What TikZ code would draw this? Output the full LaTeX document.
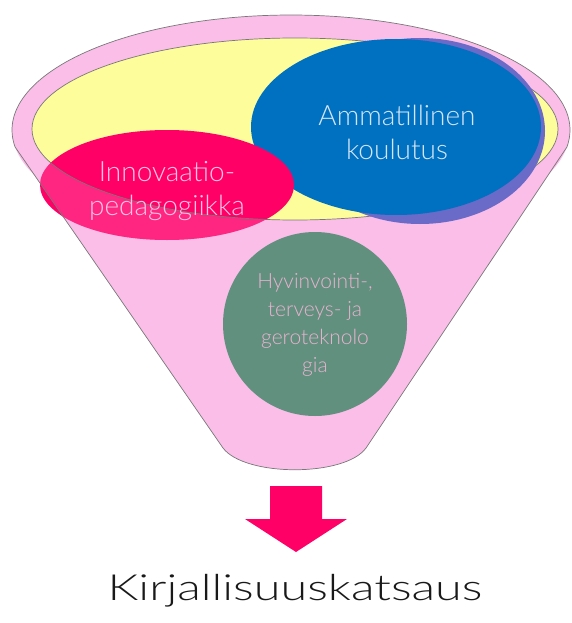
\documentclass[tikz,border=0pt]{standalone}
\usepackage{fontspec}
\setmainfont{Lato Light}
\definecolor{funnelc}{RGB}{251,190,232}
\definecolor{yellowc}{RGB}{253,253,155}
\definecolor{bluec}{RGB}{0,112,192}
\definecolor{violetc}{RGB}{106,106,200}
\definecolor{magc}{RGB}{255,0,102}
\definecolor{greenc}{RGB}{98,144,126}
\definecolor{rimc}{RGB}{120,120,120}
\definecolor{greentext}{RGB}{232,178,206}
\definecolor{magtext}{RGB}{255,196,226}
\definecolor{bluetext}{RGB}{214,230,246}
\definecolor{titlec}{RGB}{25,25,25}
\tikzset{
  rim/.style={draw=rimc, line width=0.7pt},
  bigtxt/.style={align=center, font=\fontsize{28}{34}\selectfont, inner sep=0pt},
  smalltxt/.style={align=center, font=\fontsize{21}{28}\selectfont, inner sep=0pt},
}
\begin{document}
\begin{tikzpicture}[x=1pt,y=-1pt]
\useasboundingbox (0,0) rectangle (571,623);
% funnel body
\fill[funnelc] plot[domain=0:360,samples=160] ({291+279*cos(\x)},{130+115*sin(\x)}) -- cycle;
\fill[funnelc] (15,147) -- (223,448) .. controls (245,477) and (345,477) .. (366,448) -- (567,147) -- cycle;
\draw[rim] plot[domain=171.5:368.5,samples=120] ({291+279*cos(\x)},{130+115*sin(\x)}) -- (366,448) .. controls (345,477) and (245,477) .. (223,448) -- cycle;
% inner rim
\draw[rim, fill=yellowc] (295,129) ellipse [x radius=263pt, y radius=91pt];
% blue ellipse with violet
\fill[violetc] (420,131) ellipse [x radius=125pt, y radius=93pt];
\fill[bluec] (396,127) ellipse [x radius=145pt, y radius=88pt];
% magenta ellipse
\fill[magc] (167,185) ellipse [x radius=127pt, y radius=55pt];
\begin{scope}
  \clip (167,185) ellipse [x radius=127pt, y radius=55pt];
  \fill[funnelc, opacity=0.2, even odd rule]
    plot[domain=171.5:368.5,samples=120] ({291+279*cos(\x)},{130+115*sin(\x)}) -- (366,448) .. controls (345,477) and (245,477) .. (223,448) -- cycle
    (295,129) ellipse [x radius=263pt, y radius=91pt];
  \draw[rim] (295,129) ellipse [x radius=263pt, y radius=91pt];
  \draw[rim] (15,147) -- (223,448);
\end{scope}
% green circle
\fill[greenc] (315,324) circle [radius=92pt];
% arrow
\fill[magc] (270,486) -- (322,486) -- (322,519) -- (347,519) -- (296,552) -- (245,519) -- (270,519) -- cycle;
% texts
\node[bigtxt, text=bluetext] (amm) at (397,132) {Ammatillinen\\koulutus};
\node[bigtxt, text=magtext] (inn) at (167,191) {Innovaatio-\\pedagogiikka};
\node[smalltxt, text=greentext] (hyv) at (315,325) {Hyvinvointi-,\\terveys- ja\\geroteknolo\\gia};
\node[inner sep=0pt, anchor=base, text=titlec, font=\fontsize{36}{40}\selectfont] (kir) at (295,600) {\scalebox{1.35}[1]{Kirjallisuuskatsaus}};
\end{tikzpicture}
\end{document}
